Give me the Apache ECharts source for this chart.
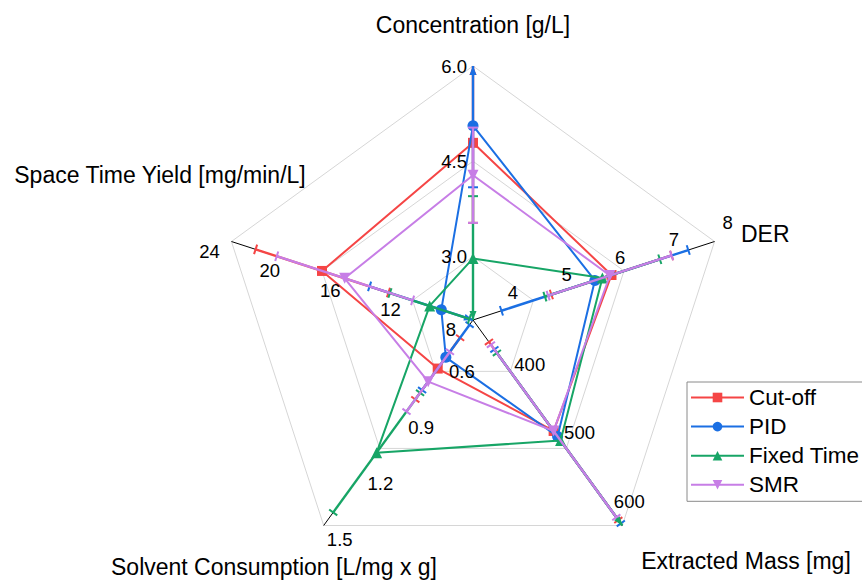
<!DOCTYPE html>
<html><head><meta charset="utf-8">
<script src="https://cdn.jsdelivr.net/npm/echarts@6/dist/echarts.min.js"></script>
<style>html,body{margin:0;padding:0;background:#fff}#c{width:862px;height:581px}</style>
</head><body><div id="c"></div>
<script>
// ---------- data ----------
const indicatorNames = ['Concentration [g/L]', 'DER', 'Extracted Mass [mg]', 'Solvent Consumption [L/mg x g]', 'Space Time Yield [mg/min/L]'];
const axisMin = [2.0, 3.5, 300, 0.4, 8];
const axisMax = [6.0, 8, 600, 1.5, 24];
const concentrationTicks = [3.0, 4.5, 6.0];
const derTicks = [4, 5, 6, 7, 8];
const massTicks = [400, 500, 600];
const solventTicks = [0.6, 0.9, 1.2, 1.5];
const styTicks = [8, 12, 16, 20, 24];
const ringValues = [3.0, 4.5, 6.0]; // grid rings at the concentration ticks

const seriesNames = ['Cut-off', 'PID', 'Fixed Time', 'SMR'];
const cutoffValues = [4.79, 6.08, 462, 0.66, 18.0];
const cutoffErrors = [1.26, 1.12, 130, 0.165, 4.4];
const pidValues = [5.06, 5.77, 470, 0.60, 10.1];
const pidErrors = [0.97, 1.74, 127, 0.175, 4.75];
const fixedValues = [2.97, 5.91, 476, 1.11, 10.87];
const fixedErrors = [0.98, 1.07, 128, 0.32, 2.63];
const smrValues = [4.28, 6.05, 462, 0.73, 16.5];
const smrErrors = [0.75, 1.15, 126, 0.16, 4.5];

// ---------- helpers / styles ----------
const FONT = '"Liberation Sans", Arial, Helvetica, sans-serif';
const colors = ['#f54545', '#1b6fe3', '#17a566', '#c77ee6'];
const symbols = ['rect', 'circle', 'triangle', 'triangle'];
const symbolRotates = [0, 0, 0, 180];
const symbolSizes = [10, 11, 11, 11];
const allValues = [cutoffValues, pidValues, fixedValues, smrValues];
const allErrors = [cutoffErrors, pidErrors, fixedErrors, smrErrors];
const axisTicks = [concentrationTicks, derTicks, massTicks, solventTicks, styTicks];
const tickDecimals = [1, 0, 0, 1, 0];
const labelOffsets = [[-6, 0, 'right'], [13, -19, 'center'], [7, -24, 'center'], [16, 14.5, 'center'], [-22, 9.5, 'center']];
const namePos = [[473, 25, 'center'], [741, 234, 'left'], [746, 561, 'center'], [274, 567, 'center'], [160, 175, 'center']];

const N = indicatorNames.length;
function ang(i) { return Math.PI / 2 - i * 2 * Math.PI / N; }
function frac(i, v) { return (v - axisMin[i]) / (axisMax[i] - axisMin[i]); }
function toXY(i, v) { const f = frac(i, v), a = ang(i); return [f * Math.cos(a), f * Math.sin(a)]; }

const series = [];
// grid rings
series.push({
  type: 'custom', name: 'rings', coordinateSystem: 'cartesian2d', silent: true, z: 1,
  data: ringValues.map(v => [0, 0, v]),
  renderItem(params, api) {
    const f = frac(0, api.value(2));
    const pts = indicatorNames.map((_, i) => api.coord(toXY(i, axisMin[i] + f * (axisMax[i] - axisMin[i]))));
    return { type: 'polygon', shape: { points: pts }, style: { fill: 'none', stroke: '#d6d6d6', lineWidth: 1 } };
  }
});
// axis lines
series.push({
  type: 'custom', name: 'axes', coordinateSystem: 'cartesian2d', silent: true, z: 2,
  data: indicatorNames.map((n, i) => [0, 0, i]),
  renderItem(params, api) {
    const i = api.value(2);
    const p0 = api.coord(toXY(i, axisMin[i])), p1 = api.coord(toXY(i, axisMax[i]));
    return { type: 'line', shape: { x1: p0[0], y1: p0[1], x2: p1[0], y2: p1[1] }, style: { stroke: '#000', lineWidth: 1 } };
  }
});
// series lines + error bars
seriesNames.forEach((name, s) => {
  const vals = allValues[s], errs = allErrors[s], color = colors[s];
  const pts = vals.map((v, i) => toXY(i, v));
  const data = pts.map(p => ({ value: p }));
  data.push({ value: pts[0], symbol: 'none' });
  series.push({
    type: 'line', name, data, clip: false, z: 10 + 2 * s,
    symbol: symbols[s], symbolSize: symbolSizes[s], symbolRotate: symbolRotates[s], showAllSymbol: true,
    lineStyle: { width: 2, color }, itemStyle: { color }, color
  });
  series.push({
    type: 'custom', name: name + ' error', coordinateSystem: 'cartesian2d', silent: true, z: 11 + 2 * s,
    data: vals.map((v, i) => [0, 0, i, v, errs[i]]),
    renderItem(params, api) {
      const i = api.value(2), v = api.value(3), e = api.value(4);
      let lo = v - e, hi = v + e;
      const loClip = lo < axisMin[i] - 1e-9, hiClip = hi > axisMax[i] + 1e-9;
      lo = Math.max(lo, axisMin[i]); hi = Math.min(hi, axisMax[i]);
      const p0 = api.coord(toXY(i, lo)), p1 = api.coord(toXY(i, hi));
      const a = ang(i); const d = [Math.cos(a), -Math.sin(a)]; const n = [-d[1], d[0]];
      const CAP = 5;
      const ch = [{ type: 'line', shape: { x1: p0[0], y1: p0[1], x2: p1[0], y2: p1[1] }, style: { stroke: color, lineWidth: 2.4 } }];
      const cap = p => ch.push({ type: 'line', shape: { x1: p[0] - n[0] * CAP, y1: p[1] - n[1] * CAP, x2: p[0] + n[0] * CAP, y2: p[1] + n[1] * CAP }, style: { stroke: color, lineWidth: 2 } });
      const arrow = (p, sgn) => {
        const L = 9, W = 3.5;
        ch.push({ type: 'polygon', shape: { points: [[p[0], p[1]],
          [p[0] - sgn * d[0] * L + n[0] * W, p[1] - sgn * d[1] * L + n[1] * W],
          [p[0] - sgn * d[0] * L - n[0] * W, p[1] - sgn * d[1] * L - n[1] * W]] }, style: { fill: color } });
      };
      loClip ? arrow(p0, -1) : cap(p0);
      hiClip ? arrow(p1, 1) : cap(p1);
      return { type: 'group', children: ch };
    }
  });
});
// tick labels
const tickData = [];
axisTicks.forEach((ticks, i) => ticks.forEach(t => tickData.push([0, 0, i, t])));
series.push({
  type: 'custom', name: 'ticklabels', coordinateSystem: 'cartesian2d', silent: true, z: 40,
  data: tickData,
  renderItem(params, api) {
    const i = api.value(2), t = api.value(3);
    const p = api.coord(toXY(i, t));
    const o = labelOffsets[i];
    return { type: 'text', x: p[0] + o[0], y: p[1] + o[1],
      style: { text: t.toFixed(tickDecimals[i]), fontSize: 18.5, fontFamily: FONT, fill: '#000', align: o[2], verticalAlign: 'middle' } };
  }
});

const chart = echarts.init(document.getElementById('c'), null, { renderer: 'svg', width: 862, height: 581 });
chart.setOption({
  animation: false,
  backgroundColor: '#fff',
  grid: { left: 219, top: 66, width: 508, height: 508, show: false },
  xAxis: { type: 'value', min: -1, max: 1, show: false },
  yAxis: { type: 'value', min: -1, max: 1, show: false },
  legend: {
    data: seriesNames, orient: 'vertical', left: 687, top: 382,
    padding: [4, 6, 5, 3], itemWidth: 53, itemHeight: 12, itemGap: 6.1,
    borderColor: '#8a8a8a', borderWidth: 1, backgroundColor: '#fff',
    textStyle: { fontSize: 22.5, fontFamily: FONT, color: '#000', lineHeight: 22 }
  },
  graphic: indicatorNames.map((t, i) => ({
    type: 'text', x: namePos[i][0], y: namePos[i][1], z: 50,
    style: { text: t, fontSize: 23, fontFamily: FONT, fill: '#000', align: namePos[i][2], verticalAlign: 'middle' }
  })),
  series
});
</script></body></html>
